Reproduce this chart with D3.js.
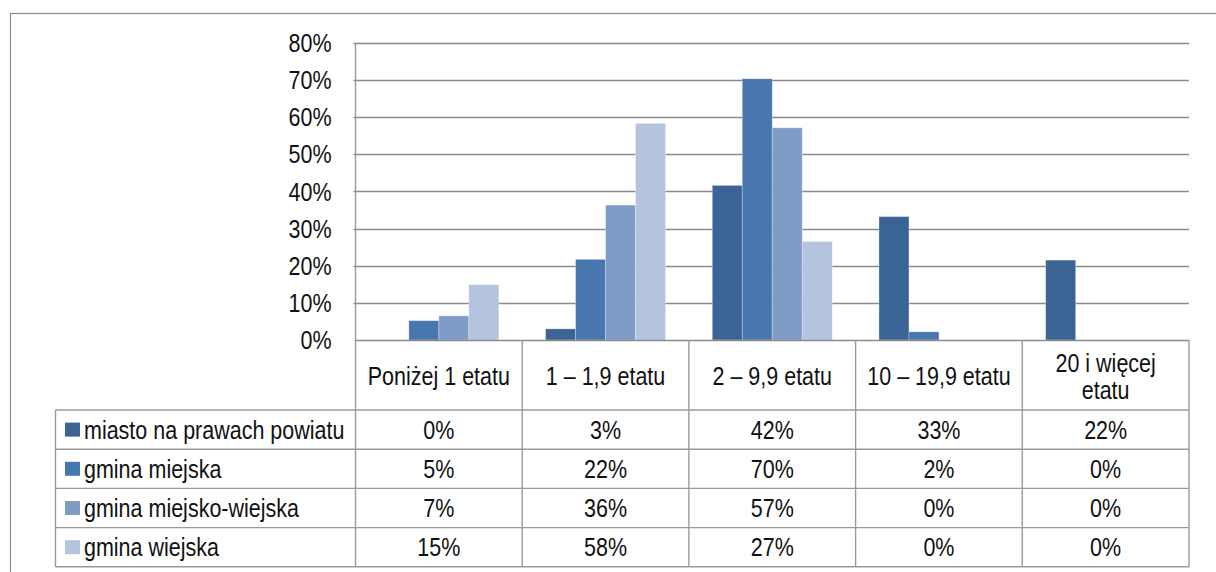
<!DOCTYPE html>
<html>
<head>
<meta charset="utf-8">
<script src="https://cdn.jsdelivr.net/npm/d3@7"></script>
<style>
  body { margin: 0; background: #fff; }
  svg { display: block; }
  text { font-family: "Liberation Sans", Arial, sans-serif; fill: #111; }
</style>
</head>
<body>
<svg id="chart" width="1216" height="572"></svg>
<script>
// ---- data ----
const categories = ["Poniżej 1 etatu", "1 – 1,9 etatu", "2 – 9,9 etatu", "10 – 19,9 etatu", "20 i więcej etatu"];
const seriesNames = ["miasto na prawach powiatu", "gmina miejska", "gmina miejsko-wiejska", "gmina wiejska"];
const miastoNaPrawachPowiatu = [0, 3.0, 41.6, 33.2, 21.5];
const gminaMiejska = [5.2, 21.7, 70.3, 2.2, 0];
const gminaMiejskoWiejska = [6.5, 36.3, 57.1, 0, 0];
const gminaWiejska = [14.9, 58.3, 26.5, 0, 0];
const yTicks = [0, 10, 20, 30, 40, 50, 60, 70, 80];
const colors = ["#3B6494", "#4877AF", "#7F9CC7", "#B4C3DE"];

const seriesValues = [miastoNaPrawachPowiatu, gminaMiejska, gminaMiejskoWiejska, gminaWiejska];
const headerLines = [["Poniżej 1 etatu"], ["1 – 1,9 etatu"], ["2 – 9,9 etatu"], ["10 – 19,9 etatu"], ["20 i więcej", "etatu"]];

// ---- layout ----
const svg = d3.select("#chart");
const plotLeft = 355.5, plotRight = 1189, plotTop = 42.7, plotBottom = 340;
const legendLeft = 55.5;
const headerBottom = 410;
const rowH = 39.2;
const fs = 21.5;
const sy = 1.22;
const gridColor = "#8a8a8a";
const tableColor = "#9a9a9a";

function label(g, tx, ty, str, anchor) {
  return g.append("text")
    .attr("transform", `translate(${tx},${ty}) scale(1,${sy})`)
    .attr("text-anchor", anchor || "middle").attr("dominant-baseline", "central")
    .attr("font-size", fs).text(str);
}

// outer frame (cropped)
svg.append("rect").attr("x", 10.5).attr("y", 13.5).attr("width", 1300).attr("height", 700)
  .attr("fill", "none").attr("stroke", "#8a8a8a").attr("stroke-width", 1.2);

const x = d3.scaleBand().domain(d3.range(categories.length)).range([plotLeft, plotRight]).paddingInner(0).paddingOuter(0);
const xs = d3.scaleBand().domain(d3.range(seriesNames.length)).range([0, x.bandwidth()]).paddingInner(0).paddingOuter(0.78);
const y = d3.scaleLinear().domain([0, 80]).range([plotBottom, plotTop]);

// gridlines
svg.append("g").selectAll("line").data(yTicks.filter(d => d > 0)).join("line")
  .attr("x1", plotLeft - 2).attr("x2", plotRight)
  .attr("y1", d => Math.round(y(d)) + 0.5).attr("y2", d => Math.round(y(d)) + 0.5)
  .attr("stroke", gridColor).attr("stroke-width", 1.4);

// y-axis labels (positions from d3 axis, text stretched)
const yAxis = d3.axisLeft(y).tickValues(yTicks).tickFormat(d => d + "%").tickSize(0).tickPadding(24);
const gy = svg.append("g").attr("transform", `translate(${plotLeft},0)`).call(yAxis);
gy.select(".domain").remove();
gy.selectAll("text").attr("font-size", fs).attr("font-family", '"Liberation Sans", Arial, sans-serif')
  .attr("fill", "#111").attr("dy", null).attr("dominant-baseline", "central")
  .attr("transform", `scale(1,${sy})`).attr("y", 0);
gy.selectAll(".tick").each(function(d) {
  d3.select(this).attr("transform", `translate(0,${y(d)})`);
});

// bars
const barData = [];
seriesValues.forEach((vals, s) => vals.forEach((v, c) => barData.push({ s, c, v })));
svg.append("g").selectAll("rect").data(barData.filter(d => d.v > 0)).join("rect")
  .attr("x", d => x(d.c) + xs(d.s))
  .attr("width", xs.bandwidth())
  .attr("y", d => y(d.v))
  .attr("height", d => y(0) - y(d.v))
  .attr("fill", d => colors[d.s])
  .attr("stroke", "rgba(255,255,255,0.35)").attr("stroke-width", 0.8);

// axis line (x) and y axis line
svg.append("line").attr("x1", plotLeft).attr("x2", plotRight).attr("y1", plotBottom + 0.5).attr("y2", plotBottom + 0.5)
  .attr("stroke", gridColor).attr("stroke-width", 1.4);
svg.append("line").attr("x1", plotLeft).attr("x2", plotLeft).attr("y1", plotTop).attr("y2", headerBottom + rowH * 4)
  .attr("stroke", tableColor).attr("stroke-width", 1.4);

// ---- data table ----
const tableBottom = headerBottom + rowH * seriesNames.length;
const tg = svg.append("g");
d3.range(1, categories.length + 1).forEach(i => {
  const xx = x(i - 1) + x.bandwidth();
  tg.append("line").attr("x1", xx).attr("x2", xx).attr("y1", plotBottom).attr("y2", tableBottom)
    .attr("stroke", tableColor).attr("stroke-width", 1.4);
});
tg.append("line").attr("x1", legendLeft).attr("x2", legendLeft).attr("y1", headerBottom).attr("y2", tableBottom)
  .attr("stroke", tableColor).attr("stroke-width", 1.4);
d3.range(0, seriesNames.length + 1).forEach(i => {
  const yy = headerBottom + i * rowH;
  tg.append("line").attr("x1", legendLeft).attr("x2", plotRight).attr("y1", yy).attr("y2", yy)
    .attr("stroke", tableColor).attr("stroke-width", 1.4);
});

// header text
categories.forEach((c, i) => {
  const lines = headerLines[i];
  const cx = x(i) + x.bandwidth() / 2;
  const cy = (plotBottom + headerBottom) / 2 + 1;
  const lh = 27;
  lines.forEach((ln, j) => label(tg, cx, cy + (j - (lines.length - 1) / 2) * lh, ln));
});

// rows
seriesNames.forEach((name, s) => {
  const cy = headerBottom + s * rowH + rowH / 2;
  tg.append("rect").attr("x", 65).attr("y", cy - 7).attr("width", 15).attr("height", 14).attr("fill", colors[s]);
  label(tg, 84, cy, name, "start");
  seriesValues[s].forEach((v, c) => label(tg, x(c) + x.bandwidth() / 2, cy, Math.round(v) + "%"));
});
</script>
</body>
</html>
